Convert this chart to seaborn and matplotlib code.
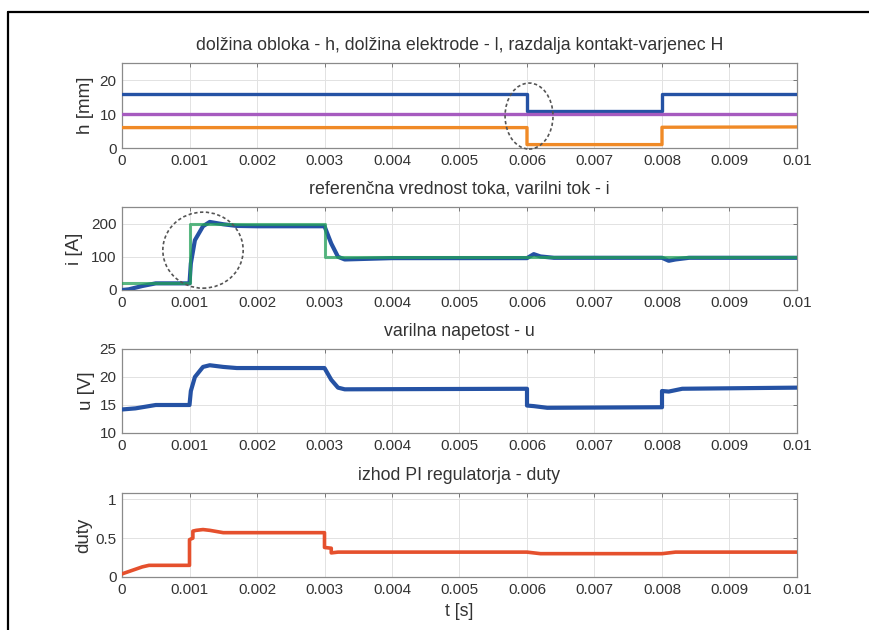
import numpy as np
import pandas as pd
import matplotlib
matplotlib.use("Agg")
import matplotlib.pyplot as plt
import seaborn as sns
from matplotlib.patches import Ellipse
from matplotlib.lines import Line2D
from matplotlib.ticker import FuncFormatter

# ---------------- data ----------------
x_ticks = [0, 0.001, 0.002, 0.003, 0.004, 0.005, 0.006, 0.007, 0.008, 0.009, 0.01]

# panel 1: H (blue), l (purple), h (orange)
t_H = [0, 0.006, 0.006, 0.008, 0.008, 0.01]
H_vals = [16, 16, 11, 11, 16, 16]
t_l = [0, 0.01]
l_vals = [10, 10]
t_h = [0, 0.006, 0.006, 0.008, 0.008, 0.01]
h_vals = [6, 6, 1, 1, 6.1, 6.2]

# panel 2: reference current (green), welding current (blue)
t_ref = [0, 0.001, 0.001, 0.003, 0.003, 0.01]
ref_vals = [20, 20, 200, 200, 100, 100]
t_i = [0, 0.0001, 0.0003, 0.0005, 0.001, 0.00102, 0.00108, 0.0012, 0.0013,
       0.0015, 0.0017, 0.002, 0.003, 0.0031, 0.0032, 0.0033, 0.004, 0.006,
       0.0061, 0.0062, 0.0064, 0.008, 0.0081, 0.0082, 0.0084, 0.01]
i_vals = [0, 2, 12, 20, 20, 80, 150, 192, 205, 198, 193, 192, 192, 140, 100,
          92, 96, 96, 108, 101, 97, 97, 88, 92, 97, 97]

# panel 3: welding voltage
t_u = [0, 0.0002, 0.0004, 0.0005, 0.001, 0.00102, 0.00108, 0.0012, 0.0013,
       0.0015, 0.0017, 0.003, 0.0031, 0.0032, 0.0033, 0.006, 0.006, 0.0061,
       0.0063, 0.008, 0.008, 0.0081, 0.0083, 0.01]
u_vals = [14.2, 14.4, 14.8, 15, 15, 17.5, 20, 21.8, 22.1, 21.8, 21.6, 21.6,
          19.5, 18.1, 17.8, 17.9, 14.9, 14.8, 14.5, 14.6, 17.5, 17.4, 17.9, 18.1]

# panel 4: PI regulator output
t_d = [0, 0.0001, 0.0002, 0.0003, 0.0004, 0.001, 0.001, 0.00105, 0.00105,
       0.0011, 0.0012, 0.0013, 0.0015, 0.003, 0.003, 0.0031, 0.0031, 0.0032,
       0.006, 0.0062, 0.008, 0.0082, 0.01]
d_vals = [0.04, 0.07, 0.1, 0.13, 0.15, 0.15, 0.48, 0.5, 0.59, 0.6, 0.61, 0.6,
          0.57, 0.57, 0.38, 0.37, 0.31, 0.32, 0.32, 0.30, 0.30, 0.32, 0.32]

titles = ["dolžina obloka - h, dolžina elektrode - l, razdalja kontakt-varjenec H",
          "referenčna vrednost toka, varilni tok - i",
          "varilna napetost - u",
          "izhod PI regulatorja - duty"]
ylabels = ["h [mm]", "i [A]", "u [V]", "duty"]
xlabel = "t [s]"

# ---------------- style ----------------
sns.set_style("white")
plt.rcParams["font.family"] = ["Liberation Sans", "DejaVu Sans"]
plt.rcParams["font.size"] = 11

C_BLUE = "#2552a4"
C_PURPLE = "#a65bbf"
C_ORANGE = "#f08a26"
C_GREEN = "#23a05a"
C_RED = "#e5502d"
TXT = "#333333"

fig = plt.figure(figsize=(8.7, 6.3), dpi=100)
W, Hh = 870, 630
left, right = 122, 797
boxes = [(63, 148), (207, 290), (349, 433), (493, 577)]
axes = []
for top, bot in boxes:
    ax = fig.add_axes([left / W, 1 - bot / Hh, (right - left) / W, (bot - top) / Hh])
    axes.append(ax)

def line(ax, t, v, color, lw=2.4, zorder=3, alpha=1.0):
    sns.lineplot(x=t, y=v, ax=ax, color=color, lw=lw, estimator=None,
                 sort=False, zorder=zorder, alpha=alpha)

line(axes[0], t_H, H_vals, C_BLUE)
line(axes[0], t_l, l_vals, C_PURPLE)
line(axes[0], t_h, h_vals, C_ORANGE)

line(axes[1], t_i, i_vals, C_BLUE, lw=3.0)
line(axes[1], t_ref, ref_vals, C_GREEN, lw=2.2, alpha=0.75)

line(axes[2], t_u, u_vals, C_BLUE, lw=3.0)
line(axes[3], t_d, d_vals, C_RED, lw=2.6)

ylims = [(0, 25), (0, 250), (10, 25), (0, 1.08)]
yticks = [[0, 10, 20], [0, 100, 200], [10, 15, 20, 25], [0, 0.5, 1]]
ylabel_x = [84, 73, 85, 82]
fmt = FuncFormatter(lambda v, p: f"{v:g}")
for ax, yl, yt, title, ylab, lx in zip(axes, ylims, yticks, titles, ylabels, ylabel_x):
    ax.set_xlim(0, 0.01)
    ax.set_ylim(*yl)
    ax.set_xticks(x_ticks)
    ax.set_yticks(yt)
    ax.xaxis.set_major_formatter(fmt)
    ax.yaxis.set_major_formatter(fmt)
    ax.grid(True, color="#e2e2e2", lw=0.7)
    ax.set_axisbelow(True)
    ax.tick_params(direction="in", length=3, width=0.7, color="#777777",
                   top=True, right=True, labelsize=11, labelcolor=TXT, pad=4)
    for s in ax.spines.values():
        s.set_color("#8a8a8a")
        s.set_linewidth(0.9)
    ax.set_title(title, fontsize=12.8, color=TXT, pad=9.5)
    ax.set_ylabel(ylab, fontsize=13.5, color=TXT)
    ax.yaxis.set_label_coords((lx + 10 - left) / (right - left), 0.5)
    ax.set_xlabel("")

axes[3].set_xlabel(xlabel, fontsize=12.8, color=TXT, labelpad=5)

# dashed ellipses
axes[0].add_patch(Ellipse((0.00603, 9.4), 0.00071, 19.4, fill=False, ls=(0, (2, 1.5)),
                          lw=1.2, ec="#555555", zorder=5, clip_on=False))
axes[1].add_patch(Ellipse((0.0012, 120), 0.00119, 229, fill=False, ls=(0, (2, 1.5)),
                          lw=1.2, ec="#555555", zorder=5, clip_on=False))

# outer frame (left and top edges)
fig.add_artist(Line2D([8 / W, 8 / W], [0, 1 - 12 / Hh], transform=fig.transFigure,
                      color="black", lw=1.6))
fig.add_artist(Line2D([8 / W, 1], [1 - 12 / Hh, 1 - 12 / Hh], transform=fig.transFigure,
                      color="black", lw=1.6))

fig.savefig("out.png", dpi=100)
